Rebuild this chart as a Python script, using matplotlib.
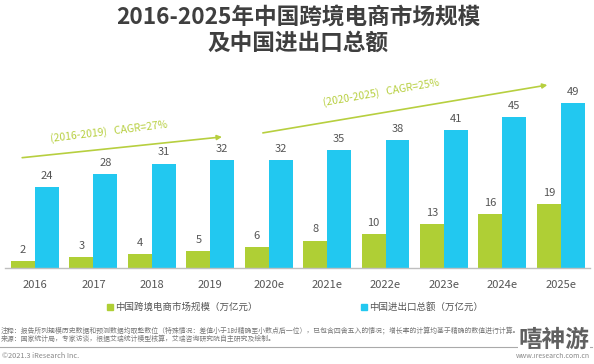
import matplotlib
matplotlib.use("Agg")
import matplotlib.pyplot as plt
import numpy as np

plt.rcParams['font.family'] = ['Noto Sans CJK SC', 'DejaVu Sans']

years = ["2016", "2017", "2018", "2019", "2020e", "2021e", "2022e", "2023e", "2024e", "2025e"]
ecommerce = [2, 3, 4, 5, 6, 8, 10, 13, 16, 19]
trade = [24, 28, 31, 32, 32, 35, 38, 41, 45, 49]
series_names = ["中国跨境电商市场规模（万亿元）", "中国进出口总额（万亿元）"]
cagr_labels = ["(2016-2019)   CAGR=27%", "(2020-2025)   CAGR=25%"]

GREEN = "#AFCF35"
BLUE = "#22C8F0"
ARROW = "#B7CF3F"
TXT = "#555555"

W, H = 594, 364
fig = plt.figure(figsize=(W / 100, H / 100), dpi=100)

# axes placement in pixels
ax_left, ax_right = 5, 590
ax_bottom, ax_top = 267.5, 80
ax = fig.add_axes([ax_left / W, 1 - ax_bottom / H, (ax_right - ax_left) / W, (ax_bottom - ax_top) / H])
ax.set_xlim(-0.514, 9.50)
ax.set_ylim(0, 56)

x = np.arange(len(years))
bw = 0.41
b1 = ax.bar(x - bw / 2, ecommerce, bw, color=GREEN, zorder=2)
b2 = ax.bar(x + bw / 2, trade, bw, color=BLUE, zorder=2)
for bars, vals in ((b1, ecommerce), (b2, trade)):
    for r, v in zip(bars, vals):
        ax.annotate(str(v), (r.get_x() + r.get_width() / 2, v), xytext=(0, 4.5),
                    textcoords="offset points", ha="center", va="bottom",
                    fontsize=8, color=TXT)

for s in ("top", "left", "right"):
    ax.spines[s].set_visible(False)
ax.spines["bottom"].set_color("#BFBFBF")
ax.spines["bottom"].set_linewidth(1.0)
ax.set_yticks([])
ax.set_xticks(x)
ax.set_xticklabels(years, fontsize=8, color=TXT)
ax.tick_params(axis="x", length=0, pad=9)

# CAGR arrows
ax.annotate("", xy=(3.2, 39.0), xytext=(-0.22, 32.8),
            arrowprops=dict(arrowstyle="-|>", color=ARROW, lw=1.2, mutation_scale=7,
                            shrinkA=0, shrinkB=0), annotation_clip=False)
ax.annotate("", xy=(8.77, 54.5), xytext=(3.90, 40.2),
            arrowprops=dict(arrowstyle="-|>", color=ARROW, lw=1.2, mutation_scale=7,
                            shrinkA=0, shrinkB=0), annotation_clip=False)
ax.text(1.27, 40.6, cagr_labels[0], rotation=7, ha="center", va="center",
        fontsize=7.5, fontweight="medium", color=ARROW, rotation_mode="anchor")
ax.text(5.92, 52.2, cagr_labels[1], rotation=10, ha="center", va="center",
        fontsize=7.5, fontweight="medium", color=ARROW, rotation_mode="anchor")

# title
fig.text(0.502, 1 - 17.5 / H, "2016-2025年中国跨境电商市场规模", ha="center", va="center",
         fontsize=16.3, fontweight="bold", color="#3F3F3F")
fig.text(0.502, 1 - 43 / H, "及中国进出口总额", ha="center", va="center",
         fontsize=16.3, fontweight="bold", color="#3F3F3F")

# legend
fig.patches.append(plt.Rectangle((107 / W, 1 - 310 / H), 6 / W, 6 / H, transform=fig.transFigure,
                                 color=GREEN, figure=fig))
fig.text(115 / W, 1 - 307 / H, series_names[0], ha="left", va="center", fontsize=6.8, color=TXT)
fig.patches.append(plt.Rectangle((361 / W, 1 - 310 / H), 6 / W, 6 / H, transform=fig.transFigure,
                                 color=BLUE, figure=fig))
fig.text(369 / W, 1 - 307 / H, series_names[1], ha="left", va="center", fontsize=6.8, color=TXT)

# notes
note1 = "注释：报告所列规模历史数据和预测数据均取整数位（特殊情况：差值小于1时精确至小数点后一位），已包含四舍五入的情况；增长率的计算均基于精确的数值进行计算。"
note2 = "来源：国家统计局，专家访谈，根据艾瑞统计模型核算，艾瑞咨询研究院自主研究及绘制。"
fig.text(1 / W, 1 - 330.5 / H, note1, ha="left", va="center", fontsize=4.95, color="#777777")
fig.text(1 / W, 1 - 338.5 / H, note2, ha="left", va="center", fontsize=4.95, color="#777777")
fig.add_artist(plt.Line2D([0, 592 / W], [1 - 347 / H, 1 - 347 / H], color="#AAAAAA", lw=0.8,
                          transform=fig.transFigure))
fig.text(2 / W, 1 - 356 / H, "©2021.3 iResearch Inc.", ha="left", va="center", fontsize=5.3, color="#888888")
fig.text(590 / W, 1 - 356 / H, "www.iresearch.com.cn", ha="right", va="center", fontsize=5, color="#888888")
fig.text(554 / W, 1 - 340 / H, "嘻神游", ha="center", va="center", fontsize=17, fontweight="bold",
         color="#606060", bbox=dict(facecolor="white", edgecolor="none", pad=0.5))

fig.savefig("out.png", dpi=100, facecolor="white")
